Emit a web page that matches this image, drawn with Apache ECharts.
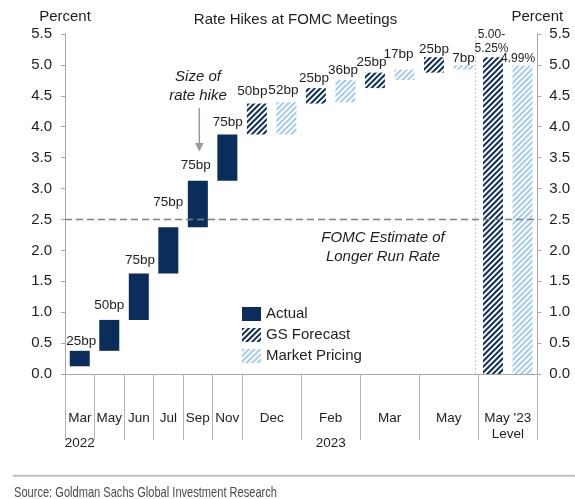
<!DOCTYPE html>
<html><head><meta charset="utf-8">
<script src="https://cdn.jsdelivr.net/npm/echarts@6/dist/echarts.min.js"></script>
<style>html,body{margin:0;padding:0;background:#fff}#c{width:575px;height:499px}</style>
</head><body><div id="c"></div>
<script>
// ---------------- data ----------------
const meetingLabels = ['Mar','May','Jun','Jul','Sep','Nov','Dec','Feb','Mar','May',"May '23\nLevel"];
const yearLabels    = ['2022','','','','','','','2023','','',''];
const startLevel    = 0.125;               // mid-point of target range before Mar 2022 hike
const actualHikesBp = [25,50,75,75,75,75]; // Mar..Nov 2022
const gsHikesBp     = [50,25,25,25];       // Dec, Feb, Mar, May
const marketHikesBp = [52,36,17,7];        // Dec, Feb, Mar, May
const levelGS       = 5.125;
const levelGSLabel  = '5.00-\n5.25%';
const levelMkt      = 4.99;
const levelMktLabel = '4.99%';
const longerRunRate = 2.5;
const yTickLabels   = ['0.0','0.5','1.0','1.5','2.0','2.5','3.0','3.5','4.0','4.5','5.0','5.5'];
const sourceText    = 'Source: Goldman Sachs Global Investment Research';

// --------------- styles ---------------
const NAVY = '#0b2d5b', LIGHT = '#a3cbec', TXT = '#1e1e1e', AX = '#a8a8a8';
const FONT = "'Liberation Sans', Arial, sans-serif";
const labelDist = [3,7.5,6.5,17.5,9,5.5, 5.5,5.5, 3,3, 3.5,8, 1,0, 1,0];
const labelDx   = [1.5,0,1.3,0,-2,0.5, -4.5,-3, -2,-2.5, -3.5,-6, 0,0, -1.5,-4.5];

// --------------- build slots ---------------
const slotsPer = meetingLabels.map((_, i) => i < actualHikesBp.length ? 1 : 2);
const nSlots = slotsPer.reduce((a, b) => a + b, 0);
const base = [], actual = [], gs = [], mkt = [], txt = [];
let lvl = startLevel;
actualHikesBp.forEach(bp => {
  base.push(lvl); actual.push(bp / 100); gs.push('-'); mkt.push('-'); txt.push(bp + 'bp');
  lvl += bp / 100;
});
let lg = lvl, lm = lvl;
gsHikesBp.forEach((bp, i) => {
  base.push(lg); actual.push('-'); gs.push(bp / 100); mkt.push('-'); txt.push(bp + 'bp');
  lg += bp / 100;
  const mb = marketHikesBp[i];
  base.push(lm); actual.push('-'); gs.push('-'); mkt.push(mb / 100); txt.push(mb + 'bp');
  lm += mb / 100;
});
base.push(0); actual.push('-'); gs.push(levelGS); mkt.push('-'); txt.push(levelGSLabel);
base.push(0); actual.push('-'); gs.push('-'); mkt.push(levelMkt); txt.push(levelMktLabel);

const lastLevel = nSlots - 2;
function items(arr) {
  return arr.map((v, i) => v === '-' ? '-' : {
    value: v,
    label: {
      distance: labelDist[i], offset: [labelDx[i], 0],
      fontSize: i >= lastLevel ? 12 : 13.5,
      lineHeight: i >= lastLevel ? 14.5 : undefined
    }
  });
}

// x label positions (value axis 0..nSlots)
const labelAt = {};
let cum = 0;
meetingLabels.forEach((m, i) => {
  const c = cum + slotsPer[i] / 2;
  const parts = m.split('\n').map(s => '{a|' + s + '}');
  if (yearLabels[i]) parts.push('{b|' + yearLabels[i] + '}');
  labelAt[c.toFixed(2)] = parts.join('\n');
  cum += slotsPer[i];
});
const tickBoundaries = [];
cum = 0;
slotsPer.forEach(s => { tickBoundaries.push(cum); cum += s; });

const decalGS  = {symbol: 'rect', symbolSize: 1, dashArrayX: [1, 0], dashArrayY: [2, 2], rotation: -Math.PI / 4, color: NAVY};
const decalMkt = {symbol: 'rect', symbolSize: 1, dashArrayX: [1, 0], dashArrayY: [2, 2], rotation: -Math.PI / 4, color: LIGHT};

// condensed source line: squeeze regular font to the reference width
const srcFont = "15px 'Liberation Sans'";
const mctx = document.createElement('canvas').getContext('2d');
mctx.font = srcFont;
const srcScale = 263 / mctx.measureText(sourceText).width;

const gridRect = {left: 65, right: 37.7, top: 34, height: 340};
const yCommon = {
  type: 'value', min: 0, max: 5.5, interval: 0.5,
  axisLine: {show: true, lineStyle: {color: AX, width: 1}},
  axisTick: {show: true, length: 4, lineStyle: {color: AX}},
  splitLine: {show: false},
  name: 'Percent', nameLocation: 'end', nameGap: 10,
  nameTextStyle: {fontSize: 15, color: TXT, align: 'center', fontFamily: FONT}
};
const barLabel = {show: true, position: 'top', color: TXT, fontSize: 13.5, fontFamily: FONT,
  formatter: p => txt[p.dataIndex]};

const chart = echarts.init(document.getElementById('c'));
chart.setOption({
  animation: false,
  textStyle: {fontFamily: FONT, color: TXT},
  title: {text: 'Rate Hikes at FOMC Meetings', left: 290.5, textAlign: 'center', top: 7,
    textStyle: {fontSize: 15, fontWeight: 'normal', color: TXT, fontFamily: FONT}},
  grid: [Object.assign({}, gridRect), Object.assign({}, gridRect)],
  legend: {
    data: ['Actual', 'GS Forecast', 'Market Pricing'],
    orient: 'vertical', left: 237, top: 301.5, itemWidth: 19, itemHeight: 14, itemGap: 6,
    icon: 'rect', textStyle: {fontSize: 15, color: TXT, fontFamily: FONT}
  },
  xAxis: [
    {type: 'category', gridIndex: 0, data: Array.from({length: nSlots}, (_, i) => String(i)),
     boundaryGap: true,
     axisLine: {lineStyle: {color: AX}},
     axisTick: {show: true, length: 66, interval: (i) => tickBoundaries.includes(i),
       lineStyle: {color: '#b4b4b4'}},
     axisLabel: {show: false}},
    {type: 'value', gridIndex: 1, min: 0, max: nSlots, interval: 0.5, position: 'bottom',
     axisLine: {show: false}, axisTick: {show: false}, splitLine: {show: false},
     axisLabel: {show: true, margin: 36, color: TXT,
       formatter: v => labelAt[v.toFixed(2)] || '',
       rich: {a: {fontSize: 13.5, lineHeight: 16, color: TXT, fontFamily: FONT},
              b: {fontSize: 13.5, lineHeight: 34, color: TXT, fontFamily: FONT}}}}
  ],
  yAxis: [
    Object.assign({}, yCommon, {gridIndex: 0, position: 'left',
      axisLabel: {margin: 13, fontSize: 15, color: TXT, formatter: v => yTickLabels[Math.round(v / 0.5)]}}),
    Object.assign({}, yCommon, {gridIndex: 0, position: 'right',
      axisLabel: {margin: 12, fontSize: 15, color: TXT, formatter: v => yTickLabels[Math.round(v / 0.5)]}}),
    {type: 'value', gridIndex: 1, min: 0, max: 5.5, show: false}
  ],
  series: [
    {name: 'base', type: 'bar', stack: 'w', data: base, barWidth: 20, silent: true,
     itemStyle: {color: 'transparent'}, label: {show: false}, xAxisIndex: 0, yAxisIndex: 0},
    {name: 'Actual', type: 'bar', stack: 'w', data: items(actual), barWidth: 20,
     itemStyle: {color: NAVY}, label: barLabel, xAxisIndex: 0, yAxisIndex: 0},
    {name: 'GS Forecast', type: 'bar', stack: 'w', data: items(gs), barWidth: 20,
     itemStyle: {color: '#ffffff', decal: decalGS}, label: barLabel, xAxisIndex: 0, yAxisIndex: 0},
    {name: 'Market Pricing', type: 'bar', stack: 'w', data: items(mkt), barWidth: 20,
     itemStyle: {color: '#ffffff', decal: decalMkt}, label: barLabel, xAxisIndex: 0, yAxisIndex: 0},
    {name: 'refs', type: 'line', xAxisIndex: 1, yAxisIndex: 2, data: [], silent: true,
     markLine: {silent: true, symbol: 'none', label: {show: false},
       data: [
         {yAxis: longerRunRate, lineStyle: {color: '#808080', type: [7, 4], width: 1.3}},
         {xAxis: nSlots - 2.1, lineStyle: {color: '#b8b8b8', type: [1.5, 2.5], width: 1.2}}
       ]}}
  ],
  graphic: [
    {type: 'text', x: 198, y: 86.5, style: {text: 'Size of\nrate hike', fontSize: 15, fontStyle: 'italic',
      fontFamily: FONT, fill: TXT, align: 'center', verticalAlign: 'middle', lineHeight: 18.5}},
    {type: 'line', shape: {x1: 199.3, y1: 108, x2: 199.3, y2: 144}, style: {stroke: '#9a9a9a', lineWidth: 1.5}},
    {type: 'polygon', shape: {points: [[195, 143], [203.6, 143], [199.3, 151.5]]}, style: {fill: '#9a9a9a'}},
    {type: 'text', x: 383, y: 247.4, style: {text: 'FOMC Estimate of\nLonger Run Rate', fontSize: 15,
      fontStyle: 'italic', fontFamily: FONT, fill: TXT, align: 'center', verticalAlign: 'middle', lineHeight: 18.7}},
    {type: 'line', shape: {x1: 13, y1: 475.7, x2: 575, y2: 475.7}, style: {stroke: '#c0c0c0', lineWidth: 2}},
    {type: 'text', x: 14, y: 492.5, scaleX: srcScale, style: {text: sourceText, fontSize: 15,
      fontFamily: "'Liberation Sans'", fill: '#4a4a4a', verticalAlign: 'middle'}}
  ]
});
</script></body></html>
